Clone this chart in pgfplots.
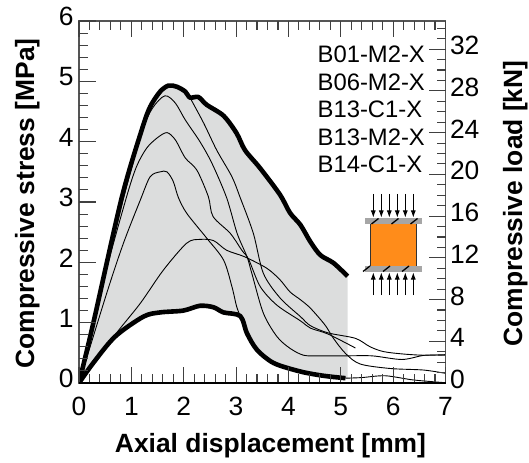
\documentclass[border=0pt]{standalone}
\usepackage{pgfplots}
\pgfplotsset{compat=1.18}
\usetikzlibrary{arrows.meta}
\usepackage{fontspec}
\setmainfont{Liberation Sans}
\definecolor{tickc}{HTML}{404040}
\definecolor{axg}{HTML}{555555}
\definecolor{envg}{HTML}{DCDDDD}
\definecolor{orangeb}{HTML}{FF8C1A}
\definecolor{plateg}{HTML}{A6A6A6}
\newcommand{\tickfont}{\fontsize{26.5}{26.5}\selectfont}
\newcommand{\legfont}{\fontsize{23.9}{24}\selectfont}
\newcommand{\labfont}{\fontsize{26.5}{27}\selectfont\bfseries}
\pgfplotsset{common/.style={
  at={(79bp,-383bp)}, anchor=origin, scale only axis,
  width=366.5bp, height=362bp,
  tick align=inside,
  tickwidth=0bp, subtickwidth=0bp,
  axis line style={axg,line width=1.1bp},
  /pgf/number format/assume math mode=true,
  ticklabel style={font=\tickfont,text=black},
}}
\begin{document}
\begin{tikzpicture}
\begin{scope}[x=1bp,y=-1bp]
\useasboundingbox (0,0) rectangle (529,463);
\end{scope}
\begin{axis}[common,
  xmin=0,xmax=7,ymin=0,ymax=6,
  xtick={0,1,2,3,4,5,6,7}, ytick={0,1,2,3,4,5,6},
  xtick pos=both, ytick pos=left,
  xticklabel style={yshift=-11bp},
  yticklabel style={yshift=4.5bp,xshift=-2bp},
]
\addplot[fill=envg,draw=none] coordinates {
(0,0)(.27,.98)(.816,3.07)(1.2,4.2)(1.36,4.58)(1.55,4.83)(1.71,4.93)(1.87,4.91)(2.03,4.83)(2.12,4.73)(2.28,4.74)(2.44,4.61)(2.76,4.43)(3.01,4.14)(3.17,3.86)(3.46,3.56)(3.84,3.12)(4.03,2.82)(4.23,2.62)(4.42,2.34)(4.61,2.12)(4.86,1.99)(5.13,1.77)
(5.13,.07)(4.67,.12)(4.23,.19)(3.72,.33)(3.4,.55)(3.21,.82)(3.08,1.11)(2.76,1.17)(2.57,1.255)(2.31,1.28)(1.99,1.2)(1.55,1.17)(1.23,1.1)(.69,.77)(.27,.33)(0,0)};
\addplot[black,line width=0.9bp,smooth,tension=0.5] coordinates {
(0,0)(.3,1.1)(.816,2.95)(1.2,4.15)(1.4,4.55)(1.64,4.76)(1.84,4.64)(2.03,4.36)(2.31,4.0)(2.54,3.64)(2.82,3.07)(3.02,2.48)(3.21,2.09)(3.3,1.82)(3.52,1.16)(3.78,.77)(4.03,.575)(4.29,.46)(4.6,.45)(5.09,.45)(5.6,.45)(6.17,.39)(6.6,.46)(7,.46)};
\addplot[black,line width=0.9bp,smooth,tension=0.5] coordinates {
(0,0)(.5,1.8)(.91,3.09)(1.1,3.59)(1.29,3.89)(1.49,4.06)(1.68,4.15)(1.84,4.03)(2.03,3.73)(2.25,3.53)(2.47,3.09)(2.56,2.76)(2.89,2.48)(3.11,2.2)(3.24,2.05)(3.46,1.6)(3.78,1.29)(4.23,1.03)(4.42,.91)(4.76,.81)(5.28,.58)};
\addplot[black,line width=0.9bp,smooth,tension=0.5] coordinates {
(0,0)(.53,1.49)(.85,2.32)(1.17,3.03)(1.36,3.42)(1.55,3.5)(1.68,3.5)(1.8,3.34)(1.9,3.07)(2.06,2.81)(2.44,2.4)(2.76,2.04)(2.92,1.6)(3.01,1.27)(3.08,1.11)};
\addplot[black,line width=0.9bp,smooth,tension=0.5] coordinates {
(0,0)(.69,.8)(1.17,1.32)(1.61,1.87)(2.06,2.32)(2.31,2.38)(2.57,2.36)(2.82,2.2)(3.17,2.09)(3.59,1.9)(3.84,1.71)(4.03,1.51)(4.23,1.38)(4.42,1.24)(4.7,.96)(4.86,.74)(5.09,.49)(5.37,.315)(5.95,.24)(6.58,.215)(7,.16)};
\addplot[black,line width=0.9bp,smooth,tension=0.5] coordinates {
(2.12,4.73)(2.38,4.31)(2.63,3.86)(2.92,3.42)(3.08,3.07)(3.33,2.48)(3.52,1.82)(3.84,1.41)(4.23,1.1)(4.42,.95)(4.76,.83)(5.28,.74)(5.56,.6)(5.82,.52)(6.2,.48)(6.6,.46)(7,.47)};
\addplot[black,line width=0.9bp,smooth,tension=0.5] coordinates {
(5.09,.08)(5.4,.09)(5.85,.12)(6.39,.05)(7,.005)};
\addplot[black,line width=4.6bp,line join=round,smooth,tension=0.5] coordinates {
(0,0)(.27,.98)(.816,3.07)(1.2,4.2)(1.36,4.58)(1.55,4.83)(1.71,4.93)(1.87,4.91)(2.03,4.83)(2.12,4.73)(2.28,4.74)(2.44,4.61)(2.76,4.43)(3.01,4.14)(3.17,3.86)(3.46,3.56)(3.84,3.12)(4.03,2.82)(4.23,2.62)(4.42,2.34)(4.61,2.12)(4.86,1.99)(5.13,1.77)};
\addplot[black,line width=4.6bp,line join=round,smooth,tension=0.5] coordinates {
(0,0)(.27,.33)(.69,.77)(1.23,1.1)(1.55,1.17)(1.99,1.2)(2.31,1.28)(2.57,1.255)(2.76,1.17)(3.08,1.11)(3.21,.82)(3.4,.55)(3.72,.33)(4.23,.19)(4.67,.12)(5.09,.08)};
\end{axis}
\begin{axis}[common,
  xmin=0,xmax=7,ymin=0,ymax=34.7,
  hide x axis, axis y line*=right,
  ytick={0,4,8,12,16,20,24,28,32},
  yticklabel style={yshift=3.5bp,xshift=1bp},
]
\addplot[draw=none] coordinates {(0,0)};
\end{axis}
\begin{scope}[x=1bp,y=-1bp]
\foreach \k in {0,...,35}{
  \pgfmathsetmacro{\xx}{79+10.471*\k}
  \pgfmathtruncatemacro{\mj}{mod(\k,5)==0}
  \pgfmathsetmacro{\lnt}{\mj==1?16.5:9}
  \draw[tickc,line width=1.1bp] (\xx,21) -- (\xx,21+\lnt);
  \draw[tickc,line width=1.1bp] (\xx,383) -- (\xx,383-\lnt);
}
\foreach \k in {0,...,30}{
  \pgfmathsetmacro{\yy}{383-12.067*\k}
  \pgfmathtruncatemacro{\mj}{mod(\k,5)==0}
  \pgfmathsetmacro{\lnt}{\mj==1?16.5:9}
  \draw[tickc,line width=1.1bp] (79,\yy) -- (79+\lnt,\yy);
}
\foreach \k in {0,...,34}{
  \pgfmathsetmacro{\yy}{383-10.432*\k}
  \pgfmathtruncatemacro{\mj}{mod(\k,4)==0}
  \pgfmathsetmacro{\lnt}{\mj==1?16.5:9}
  \draw[tickc,line width=1.1bp] (445.5,\yy) -- (445.5-\lnt,\yy);
}
\draw[black,line width=1.2bp] (79,383) -- (445.5,383);
\foreach \t/\yy in {B01-M2-X/63,B06-M2-X/90.7,B13-C1-X/118,B13-M2-X/145.7,B14-C1-X/172.7}
  \node[anchor=base west,inner sep=0pt,font=\legfont] at (317.5,\yy) {\t};
\node[anchor=base,inner sep=0pt,font=\labfont] at (270.5,452) {Axial displacement [mm]};
\node[anchor=base,inner sep=0pt,font=\labfont,rotate=90] at (34,203.5) {Compressive stress [MPa]};
\node[anchor=base,inner sep=0pt,font=\labfont,rotate=90] at (522,203.5) {Compressive load [kN]};
\fill[orangeb] (370.5,223) rectangle (416,266);
\draw[black!80,line width=1bp] (370.5,223) rectangle (416,266);
\fill[plateg] (364.5,218.5) rectangle (421.5,224);
\fill[plateg] (364.5,266) rectangle (421.5,271.5);
\foreach \xx in {375,395,414}{
 \draw[black,line width=1.3bp] (\xx-3.5,224) -- (\xx+3.5,218.5);
 \draw[black,line width=1.3bp] (\xx-12,271.5) -- (\xx-5,266);}
\foreach \xx in {373.3,381.3,389.3,397.3,405.3,413.3}{
 \draw[black,line width=0.8bp,-{Latex[length=7bp,width=5bp]}] (\xx,194) -- (\xx,217.5);
 \draw[black,line width=0.8bp,-{Latex[length=7bp,width=5bp]}] (\xx,295) -- (\xx,272.5);}
\end{scope}
\end{tikzpicture}
\end{document}
